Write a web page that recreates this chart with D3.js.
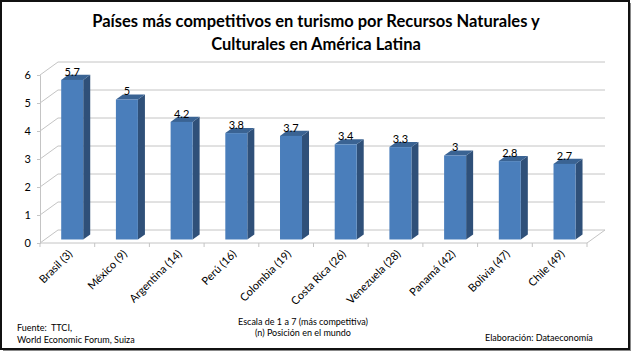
<!DOCTYPE html>
<html>
<head>
<meta charset="utf-8">
<script src="https://cdn.jsdelivr.net/npm/d3@7"></script>
<style>
  body { margin: 0; background: #fff; }
  svg { display: block; font-family: Lato, "Open Sans", sans-serif; }
  text { white-space: pre; }
</style>
</head>
<body>
<svg id="chart" width="633" height="353"></svg>
<script>
const countries = ["Brasil (3)", "México (9)", "Argentina (14)", "Perú (16)", "Colombia (19)",
  "Costa Rica (26)", "Venezuela (28)", "Panamá (42)", "Bolivia (47)", "Chile (49)"];
const values = [5.7, 5, 4.2, 3.8, 3.7, 3.4, 3.3, 3, 2.8, 2.7];
const yTicks = [0, 1, 2, 3, 4, 5, 6];
const titleLines = ["Países más competitivos en turismo por Recursos Naturales y",
  "Culturales en América Latina"];
const noteLines = ["Escala de 1 a 7 (más competitiva)", "(n) Posición en el mundo"];
const sourceLines = ["Fuente:  TTCI,", "World Economic Forum, Suiza"];
const credit = "Elaboración: Dataeconomía";

const svg = d3.select("#chart");
const W = 633, H = 353;

// frame
svg.append("rect").attr("x", 3).attr("y", 3).attr("width", W - 5).attr("height", H - 5)
  .attr("fill", "#888");
svg.append("rect").attr("x", 1).attr("y", 1).attr("width", W - 5).attr("height", H - 5)
  .attr("fill", "#fff").attr("stroke", "#111").attr("stroke-width", 2);

// title
svg.append("g").selectAll("text").data(titleLines).enter().append("text")
  .attr("x", 316).attr("y", (d, i) => 27 + i * 23)
  .attr("text-anchor", "middle")
  .style("font-weight", "bold").style("font-size", "16.5px").style("fill", "#000")
  .text(d => d);

// plot geometry
const x = d3.scaleBand().domain(countries).range([40, 587]);
const y = d3.scaleLinear().domain([0, 6]).range([243, 75]);
const depth = { dx: 18, dy: -13 };
const sh = f => [depth.dx * f, depth.dy * f];
const grid = "#c4c4c4";

const walls = svg.append("g");
// back wall gridlines
walls.selectAll("line.back").data(yTicks).enter().append("line")
  .attr("x1", 40 + depth.dx).attr("x2", 587 + depth.dx)
  .attr("y1", d => y(d) + depth.dy).attr("y2", d => y(d) + depth.dy)
  .attr("stroke", grid).attr("stroke-width", 1);
// left wall diagonals
walls.selectAll("line.side").data(yTicks).enter().append("line")
  .attr("x1", 40).attr("x2", 40 + depth.dx)
  .attr("y1", d => y(d)).attr("y2", d => y(d) + depth.dy)
  .attr("stroke", grid).attr("stroke-width", 1);
// floor front edge + right diagonal
walls.append("line").attr("x1", 40).attr("x2", 587).attr("y1", y(0)).attr("y2", y(0))
  .attr("stroke", grid);
walls.append("line").attr("x1", 587).attr("x2", 587 + depth.dx)
  .attr("y1", y(0)).attr("y2", y(0) + depth.dy).attr("stroke", grid);
// category ticks
walls.selectAll("line.xt").data(d3.range(countries.length + 1)).enter().append("line")
  .attr("x1", i => 40 + i * x.bandwidth()).attr("x2", i => 40 + i * x.bandwidth())
  .attr("y1", y(0)).attr("y2", y(0) + 4).attr("stroke", grid);

// y axis
const yAxis = svg.append("g").attr("transform", "translate(40,0)")
  .call(d3.axisLeft(y).tickValues(yTicks).tickFormat(d3.format("d")).tickSize(3).tickPadding(6));
yAxis.select(".domain").attr("stroke", grid);
yAxis.selectAll(".tick line").attr("stroke", grid);
yAxis.selectAll(".tick text").style("font-size", "11px").style("font-family", "Lato, sans-serif")
  .attr("fill", "#000");

// bars
const front = 0.27, back = 0.66, halfW = 11;
const bars = svg.append("g").selectAll("g").data(countries).enter().append("g");
bars.each(function (c, i) {
  const g = d3.select(this);
  const cx = x(c) + x.bandwidth() / 2;
  const [fx, fy] = sh(front);
  const [bx, by] = sh(back);
  const l = cx + fx - halfW, r = cx + fx + halfW;
  const b = y(0) + fy, t = y(values[i]) + fy;
  const ddx = bx - fx, ddy = by - fy;
  // side
  g.append("path")
    .attr("d", `M${r},${t}L${r + ddx},${t + ddy}L${r + ddx},${b + ddy}L${r},${b}Z`)
    .attr("fill", "#2f5079");
  // top
  g.append("path")
    .attr("d", `M${l},${t}L${l + ddx},${t + ddy}L${r + ddx},${t + ddy}L${r},${t}Z`)
    .attr("fill", "#3a6393");
  // front
  g.append("rect").attr("x", l).attr("y", t).attr("width", r - l).attr("height", b - t)
    .attr("fill", "#4a7ebb");
  // value label
  g.append("text").attr("x", cx + fx).attr("y", t - 4)
    .attr("text-anchor", "middle").style("font-size", "11px").style("fill", "#000")
    .text(values[i]);
});

// category labels
svg.append("g").selectAll("text").data(countries).enter().append("text")
  .attr("transform", c => `translate(${x(c) + x.bandwidth() / 2 + 3},${y(0) + 9}) rotate(-45)`)
  .attr("text-anchor", "end").attr("dy", "0.35em")
  .style("font-size", "11px").style("fill", "#000")
  .text(c => c);

// footnotes
svg.append("g").selectAll("text").data(noteLines).enter().append("text")
  .attr("x", 303).attr("y", (d, i) => 325 + i * 11).attr("text-anchor", "middle")
  .style("font-size", "9px").style("fill", "#000").text(d => d);
svg.append("g").selectAll("text").data(sourceLines).enter().append("text")
  .attr("x", 17).attr("y", (d, i) => 331 + i * 12)
  .style("font-size", "9px").style("fill", "#000").text(d => d);
svg.append("text").attr("x", 485).attr("y", 341)
  .style("font-size", "9px").style("fill", "#000").text(credit);
</script>
</body>
</html>
